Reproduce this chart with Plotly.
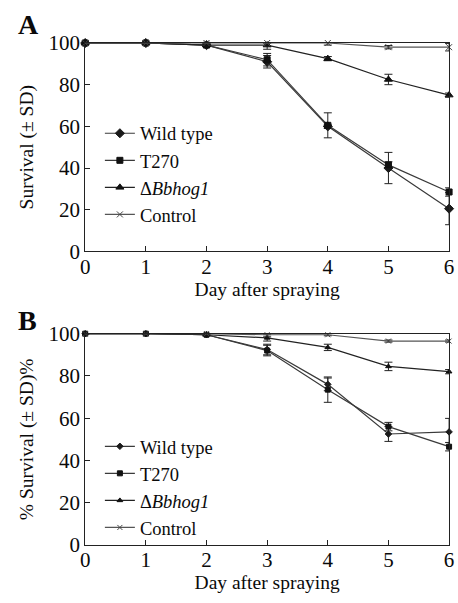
import plotly.graph_objects as go

days = [0, 1, 2, 3, 4, 5, 6]
x_ticks = [0, 1, 2, 3, 4, 5, 6]
y_ticks = [0, 20, 40, 60, 80, 100]

names = ["Wild type", "T270", "Δ<i>Bbhog1</i>", "Control"]

# Panel A
a_wt = [100, 100, 99, 91, 60, 40, 20.5]
a_wt_sd = [0, 0, 0.5, 3, 1, 7.5, 7.7]
a_t270 = [100, 100, 99, 92, 60.5, 41.5, 28.5]
a_t270_sd = [0, 0, 0.5, 3, 6, 1.5, 2]
a_hog = [100, 100, 99, 99, 92.5, 82.5, 75]
a_hog_sd = [0, 0, 0.5, 2, 1, 2.5, 1]
a_ctrl = [100, 100, 100, 100, 100, 98, 98]
a_ctrl_sd = [0, 0, 0, 0, 1, 0.8, 1.8]

# Panel B
b_wt = [100, 100, 99.5, 92.5, 76, 52.5, 53.5]
b_wt_sd = [0, 0, 0.5, 2.5, 3, 3.5, 6.4]
b_t270 = [100, 100, 99.5, 92, 73.5, 56, 46.5]
b_t270_sd = [0, 0, 0.5, 2.5, 6, 2, 2]
b_hog = [100, 100, 99.5, 98, 93.5, 84.5, 82]
b_hog_sd = [0, 0, 0.5, 1.5, 1.5, 2, 1]
b_ctrl = [100, 100, 100, 99.5, 99.5, 96.5, 96.5]
b_ctrl_sd = [0, 0, 0, 1, 0.5, 0.5, 0.5]

FONT = "Liberation Serif"
W, H = 458, 603

fig = go.Figure()

styles = [
    dict(symbol="diamond", color="#1a1a1a", lc="#3a3a3a"),
    dict(symbol="square", color="#111111", lc="#3a3a3a"),
    dict(symbol="triangle-up", color="#111111", lc="#222222"),
    dict(symbol="x-thin", color="#444444", lc="#555555"),
]

def add_panel(series, sds, xa, ya, legend, msizes):
    for name, ys, sd, st, ms in zip(names, series, sds, styles, msizes):
        fig.add_trace(go.Scatter(
            x=days, y=ys, name=name, mode="lines+markers",
            xaxis=xa, yaxis=ya, legend=legend, cliponaxis=False,
            line=dict(color=st["lc"], width=1.2),
            marker=dict(symbol=st["symbol"], size=ms, color=st["color"],
                        line=dict(width=1, color=st["color"])),
            error_y=dict(type="data", array=sd, visible=True,
                         color="#222222", thickness=1, width=4),
        ))

add_panel([a_wt, a_t270, a_hog, a_ctrl], [a_wt_sd, a_t270_sd, a_hog_sd, a_ctrl_sd],
          "x", "y", "legend", [7, 6, 7, 6])
add_panel([b_wt, b_t270, b_hog, b_ctrl], [b_wt_sd, b_t270_sd, b_hog_sd, b_ctrl_sd],
          "x2", "y2", "legend2", [5, 5, 5, 5])

xd = [82 / W, 454 / W]
ya_dom = [(H - 249.3) / H, (H - 32.3) / H]
yb_dom = [(H - 555) / H, (H - 335) / H]

axis_common = dict(
    showline=True, mirror=True, linecolor="#222222", linewidth=1,
    ticks="inside", ticklen=5, tickwidth=1, tickcolor="#222222",
    showgrid=False, zeroline=False, ticklabeloverflow="allow",
    tickfont=dict(family=FONT, size=21, color="#0a0a0a"),
)

fig.update_layout(
    width=W, height=H, autosize=False,
    margin=dict(l=0, r=0, t=0, b=0),
    paper_bgcolor="white", plot_bgcolor="white",
    font=dict(family=FONT, color="#0a0a0a"),
    xaxis=dict(domain=xd, range=[0, 6], tickvals=x_ticks, anchor="y",
               ticklabelstandoff=-4,
               title=dict(text="Day after spraying", font=dict(family=FONT, size=19.5), standoff=0),
               **axis_common),
    yaxis=dict(domain=ya_dom, range=[0, 100], tickvals=y_ticks, anchor="x",
               title=dict(text="Survival (± SD)", font=dict(family=FONT, size=19.5), standoff=9),
               **axis_common),
    xaxis2=dict(domain=xd, range=[0, 6], tickvals=x_ticks, anchor="y2",
                ticklabelstandoff=-4,
                title=dict(text="Day after spraying", font=dict(family=FONT, size=19.5), standoff=0),
                **axis_common),
    yaxis2=dict(domain=yb_dom, range=[0, 100], tickvals=y_ticks, anchor="x2",
                title=dict(text="% Survival (± SD)%", font=dict(family=FONT, size=19.5), standoff=9),
                **axis_common),
    legend=dict(x=97 / W, y=(H - 107) / H, xanchor="left", yanchor="top",
                bgcolor="rgba(0,0,0,0)", font=dict(family=FONT, size=18.5, color="#0a0a0a")),
    legend2=dict(x=97 / W, y=(H - 433) / H, xanchor="left", yanchor="top",
                 bgcolor="rgba(0,0,0,0)", font=dict(family=FONT, size=18.5, color="#0a0a0a")),
    annotations=[
        dict(text="<b>A</b>", x=11 / W, y=(H - 13) / H, xref="paper", yref="paper",
             xanchor="left", yanchor="middle", showarrow=False,
             font=dict(family=FONT, size=28, color="#0a0a0a")),
        dict(text="<b>B</b>", x=11 / W, y=(H - 321) / H, xref="paper", yref="paper",
             xanchor="left", yanchor="middle", showarrow=False,
             font=dict(family=FONT, size=28, color="#0a0a0a")),
    ],
)

fig.write_html("out.html")
